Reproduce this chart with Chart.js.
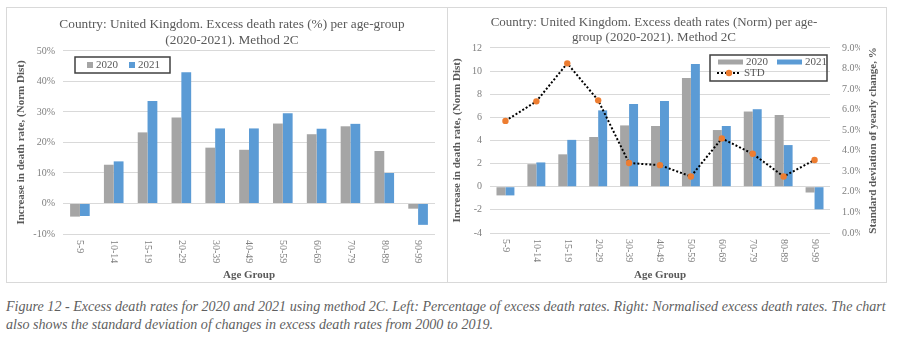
<!DOCTYPE html>
<html>
<head>
<meta charset="utf-8">
<script src="https://cdn.jsdelivr.net/npm/chart.js@4.4.1/dist/chart.umd.min.js"></script>
<style>
  body { margin: 0; background: #fff; width: 903px; height: 348px; position: relative; overflow: hidden; }
  .box { position: absolute; top: 7px; height: 274px; border: 1px solid #d9d9d9; }
  #leftBox { left: 6px; width: 440px; }
  #rightBox { left: 447px; width: 438px; }
  canvas { display: block; }
  .caption { position: absolute; left: 6px; top: 297px; font-family: "Liberation Serif", serif; font-style: italic;
    color: #5f5f5f; font-size: 14.1px; line-height: 18px; white-space: nowrap; }
</style>
</head>
<body>
<div class="box" id="leftBox"><canvas class="js-left" width="440" height="274"></canvas></div>
<div class="box" id="rightBox"><canvas class="js-right" width="438" height="274"></canvas></div>
<div class="caption">Figure 12 - Excess death rates for 2020 and 2021 using method 2C. Left: Percentage of excess death rates. Right: Normalised excess death rates. The chart<br>also shows the standard deviation of changes in excess death rates from 2000 to 2019.</div>

<script>
const ageGroups = ["5-9", "10-14", "15-19", "20-29", "30-39", "40-49", "50-59", "60-69", "70-79", "80-89", "90-99"];

// left chart, excess death rates in %
const pct2020 = [-4.3, 12.7, 23.3, 28.2, 18.3, 17.6, 26.2, 22.7, 25.3, 17.2, -1.7];
const pct2021 = [-4.1, 13.8, 33.6, 43.0, 24.6, 24.6, 29.6, 24.5, 26.1, 10.0, -7.0];

// right chart, normalised excess death rates + std of yearly change (%)
const norm2020 = [-0.75, 1.95, 2.8, 4.3, 5.3, 5.25, 9.4, 4.9, 6.5, 6.2, -0.5];
const norm2021 = [-0.75, 2.1, 4.05, 6.6, 7.15, 7.4, 10.6, 5.25, 6.7, 3.6, -1.95];
const stdChange = [5.45, 6.4, 8.25, 6.45, 3.4, 3.3, 2.75, 4.6, 3.85, 2.75, 3.55];

const grey = "#A5A5A5";
const blue = "#5B9BD5";
const orange = "#ED7D31";
const serif = "'Liberation Serif', serif";

// x labels read top to bottom, extra axis title and boxed legend like in Excel
const excelBits = {
  id: "excelBits",
  afterDraw(chart, args, opts) {
    const ctx = chart.ctx;
    const xs = chart.scales.x;
    const area = chart.chartArea;
    ctx.save();
    ctx.fillStyle = "#7f7f7f";
    ctx.font = "10px " + serif;
    ctx.textAlign = "left";
    ctx.textBaseline = "middle";
    xs.ticks.forEach((t, i) => {
      ctx.save();
      ctx.translate(xs.getPixelForTick(i), area.bottom + 6);
      ctx.rotate(Math.PI / 2);
      ctx.fillText(xs.getLabelForValue(t.value), 0, 0);
      ctx.restore();
    });

    if (opts.rightTitle) {
      ctx.save();
      ctx.fillStyle = "#595959";
      ctx.font = "bold 11px " + serif;
      ctx.textAlign = "center";
      ctx.translate(opts.rightTitle.x, (area.top + area.bottom) / 2);
      ctx.rotate(-Math.PI / 2);
      ctx.fillText(opts.rightTitle.text, 0, 0);
      ctx.restore();
    }

    const lg = opts.legend;
    ctx.strokeStyle = "#404040";
    ctx.lineWidth = 1.5;
    ctx.strokeRect(lg.x, lg.y, lg.w, lg.h);
    ctx.font = "11px " + serif;
    ctx.fillStyle = "#595959";
    lg.items.forEach((it) => {
      if (it.type === "line") {
        ctx.save();
        ctx.strokeStyle = "#000";
        ctx.lineWidth = 2;
        ctx.setLineDash([2, 2]);
        ctx.beginPath();
        ctx.moveTo(it.x, it.y);
        ctx.lineTo(it.x + it.w, it.y);
        ctx.stroke();
        ctx.fillStyle = orange;
        ctx.beginPath();
        ctx.arc(it.x + it.w / 2, it.y, 3.2, 0, Math.PI * 2);
        ctx.fill();
        ctx.restore();
      } else {
        ctx.save();
        ctx.fillStyle = it.color;
        ctx.fillRect(it.x, it.y - it.h / 2, it.w, it.h);
        ctx.restore();
      }
      ctx.fillText(it.label, it.x + it.w + 3, it.y);
    });
    ctx.restore();
  },
};

const barSet = (label, data, color) => ({
  type: "bar",
  label: label,
  data: data,
  backgroundColor: color,
  borderWidth: 0,
  categoryPercentage: 0.58,
  barPercentage: 1.0,
  order: 1,
});

const chartLeft = function () {
  const canvas = document.querySelector(".js-left");
  new Chart(canvas, {
    type: "bar",
    data: {
      labels: ageGroups,
      datasets: [barSet("2020", pct2020, grey), barSet("2021", pct2021, blue)],
    },
    options: {
      responsive: false,
      animation: false,
      // extra left padding pushes the title a bit right, like Excel had it
      layout: { padding: { left: 22, right: 12, top: 0, bottom: 0 } },
      plugins: {
        legend: { display: false },
        tooltip: { enabled: false },
        title: {
          display: true,
          text: ["Country: United Kingdom. Excess death rates (%) per age-group", "(2020-2021). Method 2C"],
          color: "#595959",
          font: { family: serif, size: 13.3, weight: "normal", lineHeight: 1.2 },
          padding: { top: 9, bottom: 2 },
        },
        excelBits: {
          legend: {
            x: 68, y: 49, w: 95, h: 16,
            items: [
              { label: "2020", color: grey, x: 80, y: 57, w: 6, h: 6 },
              { label: "2021", color: blue, x: 122, y: 57, w: 6, h: 6 },
            ],
          },
        },
      },
      scales: {
        x: {
          grid: { display: false },
          border: { display: false },
          ticks: { display: false },
          afterFit: (s) => { s.height = 48; },
          title: {
            display: true,
            text: "Age Group",
            color: "#595959",
            font: { family: serif, size: 11, weight: "bold", lineHeight: 1.2 },
            padding: { top: 0, bottom: 0 },
          },
        },
        y: {
          min: -10,
          max: 50,
          ticks: {
            stepSize: 10,
            padding: 8,
            color: "#7f7f7f",
            font: { family: serif, size: 10 },
            callback: (v) => v + "%",
          },
          grid: { color: "#d9d9d9", drawTicks: false },
          border: { display: false },
          afterFit: (s) => { s.width = 34; },
          title: {
            display: true,
            text: "Increase in death rate, (Norm Dist)",
            color: "#595959",
            font: { family: serif, size: 11, weight: "bold", lineHeight: 1.2 },
            padding: { top: -14, bottom: 0 },
          },
        },
      },
    },
    plugins: [excelBits],
  });
};

const chartRight = function () {
  const canvas = document.querySelector(".js-right");
  new Chart(canvas, {
    type: "bar",
    data: {
      labels: ageGroups,
      datasets: [
        {
          type: "line",
          label: "STD",
          data: stdChange,
          yAxisID: "y1",
          borderColor: "#000",
          borderWidth: 2,
          borderDash: [2, 2],
          pointBackgroundColor: orange,
          pointBorderWidth: 0,
          pointRadius: 3.2,
          tension: 0,
          order: 0,
        },
        barSet("2020", norm2020, grey),
        barSet("2021", norm2021, blue),
      ],
    },
    options: {
      responsive: false,
      animation: false,
      // right padding moves the title left; the right axis is narrowed to match
      layout: { padding: { left: 0, right: 26, top: 0, bottom: 0 } },
      plugins: {
        legend: { display: false },
        tooltip: { enabled: false },
        title: {
          display: true,
          text: ["Country: United Kingdom. Excess death rates (Norm) per age-", "group (2020-2021). Method 2C"],
          color: "#595959",
          font: { family: serif, size: 13, weight: "normal", lineHeight: 1.15 },
          padding: { top: 7, bottom: 3 },
        },
        excelBits: {
          rightTitle: { text: "Standard deviation of yearly change, %", x: 425 },
          legend: {
            x: 262, y: 47, w: 117, h: 26,
            items: [
              { label: "2020", color: grey, x: 270, y: 54, w: 25, h: 5 },
              { label: "2021", color: blue, x: 329, y: 54, w: 25, h: 5 },
              { label: "STD", type: "line", x: 269, y: 65, w: 24 },
            ],
          },
        },
      },
      scales: {
        x: {
          grid: { display: false },
          border: { display: false },
          ticks: { display: false },
          afterFit: (s) => { s.height = 49; },
          title: {
            display: true,
            text: "Age Group",
            color: "#595959",
            font: { family: serif, size: 11, weight: "bold", lineHeight: 1.2 },
            padding: { top: 0, bottom: 0 },
          },
        },
        y: {
          min: -4,
          max: 12,
          ticks: {
            stepSize: 2,
            padding: 8,
            color: "#7f7f7f",
            font: { family: serif, size: 10 },
          },
          grid: { color: "#d9d9d9", drawTicks: false },
          border: { display: false },
          afterFit: (s) => { s.width = 42; },
          title: {
            display: true,
            text: "Increase in death rate, (Norm Dist)",
            color: "#595959",
            font: { family: serif, size: 11, weight: "bold", lineHeight: 1.2 },
            padding: { top: 3, bottom: 0 },
          },
        },
        y1: {
          position: "right",
          min: 0,
          max: 9,
          ticks: {
            stepSize: 1,
            padding: 12,
            color: "#7f7f7f",
            font: { family: serif, size: 10 },
            callback: (v) => v.toFixed(1) + "%",
          },
          grid: { display: false, drawTicks: false },
          border: { display: false },
          afterFit: (s) => { s.width = 30; },
        },
      },
    },
    plugins: [excelBits],
  });
};

const init = function () {
  chartLeft();
  chartRight();
};

document.addEventListener("DOMContentLoaded", init);
</script>
</body>
</html>
